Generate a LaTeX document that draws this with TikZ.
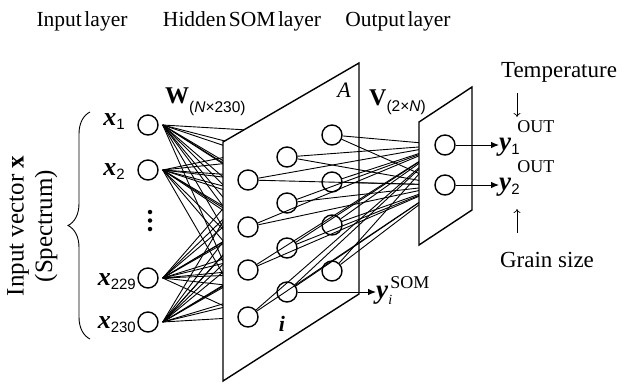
\documentclass[tikz,border=0pt]{standalone}
\usepackage{fontspec}
\setmainfont{Liberation Serif}
\newfontfamily\subsans{Liberation Sans}
\usetikzlibrary{arrows.meta,decorations.pathreplacing}

% bold italic vector symbol and its lowered sans-serif index
\newcommand{\bvec}[1]{{\fontsize{26}{26}\selectfont\textbf{\textit{#1}}}}
\newcommand{\sidx}[1]{\raisebox{-4pt}{\subsans\fontsize{15}{15}\selectfont #1}}
\newcommand{\supx}[2]{\raisebox{#1}{\fontsize{18}{18}\selectfont #2}}
\newcommand{\titlefont}{\fontsize{21.5}{22}\selectfont\spaceskip 0.12em\relax}

\begin{document}
\begin{tikzpicture}[x=1pt,y=-1pt,
  neuron/.style={circle, draw, line width=1.4pt, minimum size=20pt, inner sep=0pt},
  dotmark/.style={circle, fill, minimum size=4.5pt, inner sep=0pt},
  wire/.style={line width=0.9pt},
  plane/.style={draw, fill=white, line width=1.4pt, line join=miter},
  title/.style={font=\titlefont, inner sep=0pt, anchor=base},
  lbl/.style={font=\fontsize{23}{24}\selectfont, inner sep=0pt},
  outarrow/.style={line width=0.9pt, -{Latex[length=8pt,width=6.5pt]}},
  note/.style={line width=0.7pt, -{To[length=4pt,width=7pt]}}
]
\useasboundingbox (0,0) rectangle (626,383);

% layer titles
\node[title] (tin)  at (82,26)  {Input layer};
\node[title] (thid) at (242,26) {Hidden SOM layer};
\node[title] (tout) at (398,26) {Output layer};

% input neurons
\node[neuron] (in1)   at (148,125) {};
\node[neuron] (in2)   at (148,170) {};
\node[neuron] (in229) at (148,278) {};
\node[neuron] (in230) at (148,322) {};
\node[dotmark] (d1) at (150,212) {};
\node[dotmark] (d2) at (150,220.5) {};
\node[dotmark] (d3) at (150,229) {};

% input labels
\node[lbl, anchor=base east] (lx1)   at (125,125) {\bvec{x}\sidx{1}};
\node[lbl, anchor=base east] (lx2)   at (125,175) {\bvec{x}\sidx{2}};
\node[lbl, anchor=base east] (lx229) at (136,285) {\bvec{x}\sidx{229}};
\node[lbl, anchor=base east] (lx230) at (136,328) {\bvec{x}\sidx{230}};

% brace and vertical caption
\coordinate (bt) at (90,112);
\coordinate (bb) at (90,339);
\draw[line width=0.9pt, decorate,
      decoration={brace, amplitude=22pt, aspect=0.5}] (bb) -- (bt);
\node[lbl, font=\fontsize{25}{26}\selectfont, rotate=90] (cap1) at (18,226) {Input vector \textbf{x}};
\node[lbl, font=\fontsize{25}{26}\selectfont, rotate=90] (cap2) at (46,226) {(Spectrum)};

% hidden SOM neurons (named s<column><row>)
\node[neuron] (s11) at (248,180) {};
\node[neuron] (s12) at (248,227) {};
\node[neuron] (s13) at (248,270) {};
\node[neuron] (s14) at (248,317) {};
\node[neuron] (s21) at (287,157) {};
\node[neuron] (s22) at (287,203) {};
\node[neuron] (s23) at (287,248) {};
\node[neuron] (s24) at (287,292) {};
\node[neuron] (s31) at (332,135) {};
\node[neuron] (s32) at (332,182) {};
\node[neuron] (s33) at (332,225) {};
\node[neuron] (s34) at (332,271) {};

% input -> SOM weights (behind the SOM plane)
\foreach \a in {in1,in2,in229,in230}
  \foreach \b in {s11,s12,s13,s14,s21,s22,s23,s24,s31,s32,s33,s34}
    \draw[wire] ([xshift=4pt]\a.east) -- (\b);

% SOM plane
\coordinate (pA) at (223,142);
\coordinate (pB) at (359,63);
\coordinate (pC) at (359,294);
\coordinate (pD) at (223,381);
\filldraw[plane] (pA) -- (pB) -- (pC) -- (pD) -- cycle;
\node[lbl, font=\fontsize{22}{22}\selectfont\itshape, anchor=base] (lA) at (344,97) {A};

% SOM neurons drawn on the plane
\foreach \b in {s11,s12,s13,s14,s21,s22,s23,s24,s31,s32,s33,s34}
  \node[neuron] at (\b) {};

% output neurons
\node[neuron] (o1) at (445,145) {};
\node[neuron] (o2) at (445,185) {};

% SOM -> output weights (behind the output plane)
\foreach \b in {s11,s12,s13,s14,s21,s22,s23,s24,s31,s32,s33,s34}
  \foreach \o in {o1,o2}
    \draw[wire] (\b) -- (\o);

% output plane
\coordinate (qA) at (419,122);
\coordinate (qB) at (472,87);
\coordinate (qC) at (472,210);
\coordinate (qD) at (419,245);
\filldraw[plane] (qA) -- (qB) -- (qC) -- (qD) -- cycle;
\node[neuron] at (o1) {};
\node[neuron] at (o2) {};

% weight labels
\node[lbl, anchor=base west] (lW) at (165,103)
  {{\fontsize{24}{24}\selectfont\textbf{W}}\raisebox{-9pt}{\subsans\fontsize{15.5}{16}\selectfont(\textit{N}×230)}};
\node[lbl, anchor=base west] (lV) at (369,105)
  {{\fontsize{24}{24}\selectfont\textbf{V}}\raisebox{-6pt}{\subsans\fontsize{15.5}{16}\selectfont(2×\textit{N})}};

% SOM output
\node[lbl, anchor=base west] (ysom) at (376,298)
  {{\fontsize{27}{27}\selectfont\textbf{\textit{y}}}\rlap{\raisebox{-6pt}{\fontsize{14}{14}\selectfont\itshape i}}\hspace{2pt}\supx{10pt}{SOM}};
\draw[outarrow] (s24) -- (ysom.west |- s24);
\node[lbl, font=\fontsize{22}{22}\selectfont\bfseries\itshape] (li) at (282,324) {i};

% outputs
\node[lbl, anchor=base west] (y1) at (499,150)
  {{\fontsize{27}{27}\selectfont\textbf{\textit{y}}}\rlap{\sidx{1}}\hspace{6pt}\supx{18pt}{OUT}};
\node[lbl, anchor=base west] (y2) at (499,190)
  {{\fontsize{27}{27}\selectfont\textbf{\textit{y}}}\rlap{\sidx{2}}\hspace{6pt}\supx{18pt}{OUT}};
\draw[outarrow] (o1) -- (y1.west |- o1);
\draw[outarrow] (o2) -- (y2.west |- o2);

% physical meanings of the outputs
\node[lbl, anchor=base] (temp)  at (559,77)  {Temperature};
\node[lbl, anchor=base] (grain) at (547,267) {Grain size};
\coordinate (ta) at (517,93);
\coordinate (tb) at (517,117);
\coordinate (ga) at (517,233);
\coordinate (gb) at (517,209);
\draw[note] (ta) -- (tb);
\draw[note] (ga) -- (gb);

\end{tikzpicture}
\end{document}
